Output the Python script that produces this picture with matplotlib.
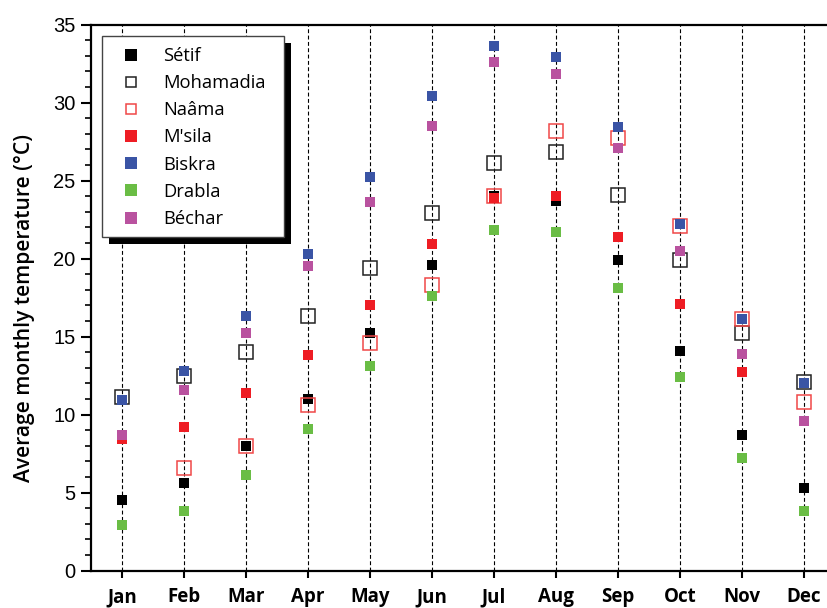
import numpy as np
import matplotlib
matplotlib.use('Agg')
import matplotlib.pyplot as plt
from matplotlib.patches import Rectangle
from matplotlib.lines import Line2D

months = ['Jan', 'Feb', 'Mar', 'Apr', 'May', 'Jun',
          'Jul', 'Aug', 'Sep', 'Oct', 'Nov', 'Dec']

# mean monthly temperature per station (deg C), nan = no value
setif     = [4.5, 5.6, 8.0, 11.0, 15.2, 19.6, 24.0, 23.7, 19.9, 14.1, 8.7, 5.3]
mohamadia = [11.1, 12.5, 14.0, 16.3, 19.4, 22.9, 26.1, 26.8, 24.1, 19.9, 15.2, 12.1]
naama     = [np.nan, 6.6, 8.0, 10.6, 14.6, 18.3, 24.0, 28.2, 27.7, 22.1, 16.1, 10.8]
msila     = [8.4, 9.2, 11.4, 13.8, 17.0, 20.9, 23.9, 24.0, 21.4, 17.1, 12.7, np.nan]
biskra    = [10.9, 12.8, 16.3, 20.3, 25.2, 30.4, 33.6, 32.9, 28.4, 22.2, 16.1, 12.0]
drabla    = [2.9, 3.8, 6.1, 9.1, 13.1, 17.6, 21.8, 21.7, 18.1, 12.4, 7.2, 3.8]
bechar    = [8.7, 11.6, 15.2, 19.5, 23.6, 28.5, 32.6, 31.8, 27.1, 20.5, 13.9, 9.6]

x = np.arange(1, len(months) + 1)
W, H = 828, 608

fig = plt.figure(figsize=(W/100, H/100), dpi=100)
ax = fig.add_axes([91/W, 37.5/H, 744/W, 546/H])
ax.patch.set_facecolor('white')

ms_fill = 7.8
ms_open = 10.2
styles = [
    ('Sétif', setif, dict(mfc='black', mec='black', mew=0)),
    ('Mohamadia', mohamadia, dict(mfc='none', mec='#222222', mew=1.1)),
    ('Naâma', naama, dict(mfc='none', mec='#f04848', mew=1.1)),
    ("M'sila", msila, dict(mfc='#ee1d24', mec='#ee1d24', mew=0)),
    ('Biskra', biskra, dict(mfc='#3a54a5', mec='#3a54a5', mew=0)),
    ('Drabla', drabla, dict(mfc='#6abd45', mec='#6abd45', mew=0)),
    ('Béchar', bechar, dict(mfc='#b9529f', mec='#b9529f', mew=0)),
]
handles = []
for name, vals, kw in styles:
    is_open = kw['mfc'] == 'none'
    ax.plot(x, vals, marker='s', ls='none', zorder=3,
            ms=ms_open if is_open else ms_fill, **kw)
    # legend squares all share one outer size
    handles.append(Line2D([], [], marker='s', ls='none', label=name,
                          ms=6.8 if is_open else 8.0, **kw))

ax.set_xlim(0.5, 12.5)
ax.set_ylim(0, 35)
ax.set_xticks(x)
ax.set_xticklabels(months, family='Open Sans', fontweight='bold', fontsize=13.5)
ax.set_yticks(np.arange(0, 36, 5))
ax.set_yticks(np.arange(0, 36, 1), minor=True)
for lab in ax.get_yticklabels():
    lab.set_family('Liberation Sans')
    lab.set_fontsize(14.5)

ax.xaxis.grid(True, color='black', lw=0.8, dashes=(3.5, 2.2))
ax.set_axisbelow(True)

for side in ['left', 'bottom', 'top']:
    ax.spines[side].set_linewidth(1.6)
ax.spines['right'].set_visible(False)
ax.tick_params(axis='y', which='major', direction='out', length=7, width=1.5, pad=4)
ax.tick_params(axis='y', which='minor', direction='out', length=4, width=1.2)
ax.tick_params(axis='x', which='major', direction='out', length=5, width=1.5, pad=7)

ax.set_ylabel('Average monthly temperature (°C)', family='Open Sans',
              fontweight='semibold', fontsize=15.1)
ax.yaxis.set_label_coords(-0.075, 0.481)

leg = ax.legend(handles=handles, loc='upper left',
                bbox_to_anchor=(102/W, 1 - 36/H),
                bbox_transform=fig.transFigure, borderaxespad=0,
                prop={'family': 'Open Sans', 'size': 13.2},
                frameon=False, handlelength=2.0, handletextpad=0.75,
                borderpad=0.6, labelspacing=0.5)
leg.set_zorder(7)

# legend box with a solid drop shadow
box = (102, 36, 284, 237)
shift = 7
ax.add_patch(Rectangle(((box[0] + shift)/W, 1 - (box[3] + shift)/H),
                       (box[2] - box[0])/W, (box[3] - box[1])/H,
                       transform=fig.transFigure, facecolor='black',
                       edgecolor='none', zorder=5, clip_on=False))
ax.add_patch(Rectangle((box[0]/W, 1 - box[3]/H),
                       (box[2] - box[0])/W, (box[3] - box[1])/H,
                       transform=fig.transFigure, facecolor='white',
                       edgecolor='#444444', lw=1.0, zorder=6, clip_on=False))

fig.savefig('out.png', dpi=100)
